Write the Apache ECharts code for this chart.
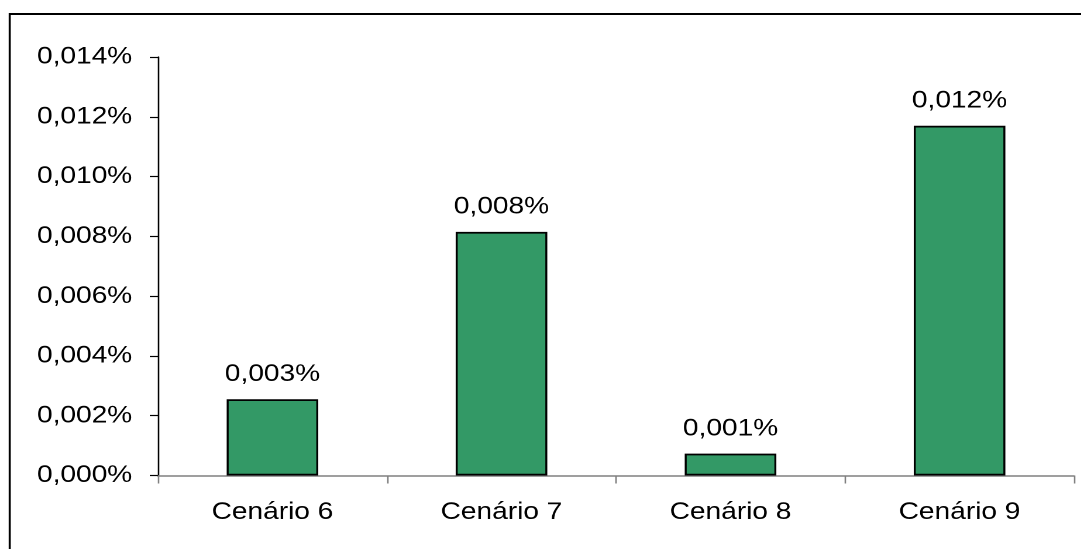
<!DOCTYPE html>
<html>
<head>
<meta charset="utf-8">
<title>Cenários</title>
<script src="https://cdn.jsdelivr.net/npm/echarts@6/dist/echarts.min.js"></script>
<style>
  html, body { margin: 0; padding: 0; background: #fff; overflow: hidden; }
  /* the chart is laid out narrower and stretched sideways to the page width */
  #chart { width: 924px; height: 549px; transform: scaleX(1.17); transform-origin: 0 0; }
</style>
</head>
<body>
<div id="chart"></div>
<script>
// Scenario names and their values (in percent)
const categories = ['Cenário 6', 'Cenário 7', 'Cenário 8', 'Cenário 9'];
const values = [0.00255, 0.00815, 0.00073, 0.0117];
// Value axis range (percent)
const yMin = 0;
const yMax = 0.014;
const yStep = 0.002;

const fmt = v => v.toFixed(3).replace('.', ',') + '%';
const font = 'Liberation Sans, Arial, sans-serif';

const chart = echarts.init(document.getElementById('chart'), null, { renderer: 'canvas', devicePixelRatio: 2 });
chart.setOption({
  animation: false,
  backgroundColor: '#ffffff',
  graphic: [
    { type: 'line', shape: { x1: 8.3, y1: 13, x2: 8.3, y2: 560 }, style: { stroke: '#000', lineWidth: 1.8 } },
    { type: 'line', shape: { x1: 7.5, y1: 14, x2: 940, y2: 14 }, style: { stroke: '#000', lineWidth: 2 } }
  ],
  grid: { left: 135, right: 6, top: 57, bottom: 73.5, containLabel: false },
  xAxis: {
    type: 'category',
    data: categories,
    axisLine: { lineStyle: { color: '#808080', width: 1.5 } },
    axisTick: { show: true, length: 8, inside: false, alignWithLabel: false, lineStyle: { color: '#808080', width: 1.3 } },
    axisLabel: { color: '#000', fontSize: 24, fontFamily: font, margin: 25 },
    splitLine: { show: false }
  },
  yAxis: {
    type: 'value',
    min: yMin,
    max: yMax,
    interval: yStep,
    axisLine: { show: true, lineStyle: { color: '#000', width: 1.3 } },
    axisTick: { show: true, length: 7, inside: false, lineStyle: { color: '#000', width: 1.2 } },
    axisLabel: { color: '#000', fontSize: 24, fontFamily: font, margin: 22, formatter: v => fmt(v) },
    splitLine: { show: false }
  },
  series: [{
    type: 'bar',
    data: values,
    barWidth: '40%',
    itemStyle: { color: '#339966', borderColor: '#000', borderWidth: 1.7 },
    label: {
      show: true,
      position: 'top',
      distance: 13,
      color: '#000',
      fontSize: 24,
      fontFamily: font,
      formatter: p => fmt(p.value)
    }
  }]
});
</script>
</body>
</html>
